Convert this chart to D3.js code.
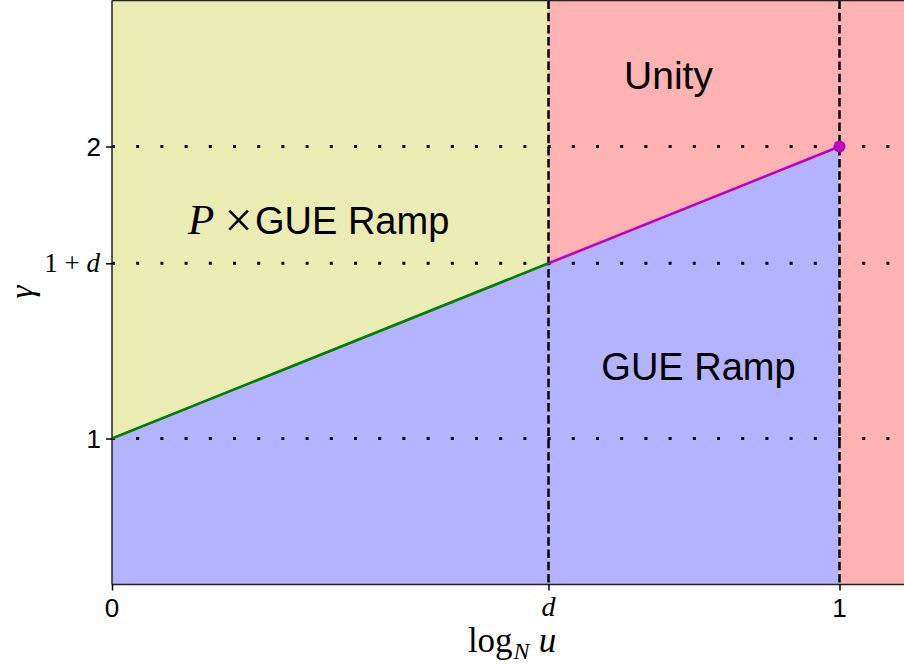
<!DOCTYPE html>
<html><head><meta charset="utf-8">
<script src="https://cdn.jsdelivr.net/npm/d3@7"></script>
<style>body{margin:0;background:#fff}svg{display:block}</style>
</head><body>
<svg id="c" width="904" height="664"></svg>
<script>
// ---- data ----
const d = 0.6;
const xDomain = [0, 1.1];
const yDomain = [0.5, 2.5];
const xTicks = [0, d, 1];
const xTickLabels = ["0", "d", "1"];
const yTicks = [1, 1 + d, 2];
const yTickLabels = ["1", "1+d", "2"];
const greenLine = [[0, 1], [d, 1 + d]];
const magentaLine = [[d, 1 + d], [1, 2]];
const endPoint = [1, 2];
const yellowRegion = [[0, 1], [d, 1 + d], [d, 2.5], [0, 2.5]];
const redRegion = [[d, 1 + d], [1, 2], [1, 0.5], [1.1, 0.5], [1.1, 2.5], [d, 2.5]];
const blueRegion = [[0, 0.5], [0, 1], [1, 2], [1, 0.5]];
const vLines = [d, 1];
const hLines = [1, 1 + d, 2];

// ---- layout ----
const svg = d3.select("#c");
const x = d3.scaleLinear().domain(xDomain).range([112, 112 + 1.1 * 727.5]);
const y = d3.scaleLinear().domain(yDomain).range([584.5, 0.5]);
const line = d3.line().x(p => x(p[0])).y(p => y(p[1]));
const poly = pts => line(pts) + "Z";

svg.append("path").attr("d", poly(yellowRegion)).attr("fill", "#ebebb4");
svg.append("path").attr("d", poly(redRegion)).attr("fill", "#ffb2b2");
svg.append("path").attr("d", poly(blueRegion)).attr("fill", "#b3b3ff");

// dotted horizontal lines
svg.selectAll(".hl").data(hLines).enter().append("line")
  .attr("x1", x(0)).attr("x2", 904)
  .attr("y1", v => y(v)).attr("y2", v => y(v))
  .attr("stroke", "#000").attr("stroke-width", 3)
  .attr("stroke-dasharray", "3 21.2");

// dashed vertical lines
svg.selectAll(".vl").data(vLines).enter().append("line")
  .attr("x1", v => x(v)).attr("x2", v => x(v))
  .attr("y1", y(2.5)).attr("y2", y(0.5))
  .attr("stroke", "#000").attr("stroke-width", 2.5)
  .attr("stroke-dasharray", "8.5 3.7");

svg.append("path").attr("d", line(greenLine)).attr("fill", "none")
  .attr("stroke", "#008000").attr("stroke-width", 2.6);
svg.append("path").attr("d", line(magentaLine)).attr("fill", "none")
  .attr("stroke", "#bf00bf").attr("stroke-width", 2.6);
svg.append("circle").attr("cx", x(endPoint[0])).attr("cy", y(endPoint[1]))
  .attr("r", 6).attr("fill", "#bf00bf");

// spines
const sp = svg.append("g").attr("stroke", "#222").attr("stroke-width", 1.5);
sp.append("line").attr("x1", x(0)).attr("x2", x(0)).attr("y1", y(2.5)).attr("y2", y(0.5));
sp.append("line").attr("x1", x(0)).attr("x2", 904).attr("y1", y(0.5)).attr("y2", y(0.5));
sp.append("line").attr("x1", x(0)).attr("x2", 904).attr("y1", y(2.5)).attr("y2", y(2.5));

// axes ticks
const xAxis = d3.axisBottom(x).tickValues(xTicks).tickSize(6).tickFormat("");
const gx = svg.append("g").attr("transform", `translate(0,${y(0.5)})`).call(xAxis);
gx.select(".domain").remove();
gx.selectAll("line").attr("stroke", "#000").attr("stroke-width", 1.5);
const yAxis = d3.axisLeft(y).tickValues(yTicks).tickSize(6).tickFormat("");
const gy = svg.append("g").attr("transform", `translate(${x(0)},0)`).call(yAxis);
gy.select(".domain").remove();
gy.selectAll("line").attr("stroke", "#000").attr("stroke-width", 1.5);

const sans = "'Liberation Sans', Arial, sans-serif";
const serif = "'Liberation Serif', 'DejaVu Serif', serif";

// x tick labels
xTicks.forEach((v, i) => {
  const lab = xTickLabels[i];
  const t = svg.append("text").attr("x", x(v)).attr("y", 617).attr("text-anchor", "middle")
    .attr("font-size", 26).attr("fill", "#000").text(lab);
  if (lab === "d") t.attr("font-family", serif).attr("font-style", "italic").attr("font-size", 28).attr("y", 616);
  else t.attr("font-family", sans);
});
// y tick labels
yTicks.forEach((v, i) => {
  const lab = yTickLabels[i];
  if (lab === "1+d") {
    const t = svg.append("text").attr("x", 100).attr("y", y(v) + 9).attr("text-anchor", "end")
      .attr("font-family", serif).attr("font-size", 27).attr("fill", "#000");
    t.append("tspan").text("1 + ");
    t.append("tspan").attr("font-style", "italic").text("d");
  } else {
    svg.append("text").attr("x", 101).attr("y", y(v) + 9.5).attr("text-anchor", "end")
      .attr("font-family", sans).attr("font-size", 26).attr("fill", "#000").text(lab);
  }
});

// axis labels
const xl = svg.append("text").attr("x", 512).attr("y", 652).attr("text-anchor", "middle")
  .attr("font-family", serif).attr("font-size", 35).attr("fill", "#000");
xl.append("tspan").text("log");
xl.append("tspan").attr("font-style", "italic").attr("font-size", 24).attr("dy", 7).attr("dx", 1).text("N");
xl.append("tspan").attr("font-style", "italic").attr("dy", -7).attr("dx", 9).text("u");

svg.append("text").attr("transform", "translate(33,292) rotate(-90)").attr("text-anchor", "middle")
  .attr("font-family", serif).attr("font-style", "italic").attr("font-size", 33).attr("fill", "#000").text("γ");

// region labels
svg.append("text").attr("x", 668.5).attr("y", 89).attr("text-anchor", "middle")
  .attr("font-family", sans).attr("font-size", 39).attr("fill", "#000").text("Unity");
svg.append("text").attr("x", 698.5).attr("y", 380).attr("text-anchor", "middle")
  .attr("font-family", sans).attr("font-size", 38).attr("fill", "#000").text("GUE Ramp");
svg.append("text").attr("x", 188).attr("y", 234).attr("fill", "#000").attr("font-size", 43)
  .attr("font-family", serif).attr("font-style", "italic").text("P");
svg.append("text").attr("x", 238.5).attr("y", 237).attr("text-anchor", "middle").attr("fill", "#000")
  .attr("font-size", 50).attr("font-family", serif).text("×");
svg.append("text").attr("x", 255).attr("y", 234).attr("fill", "#000").attr("font-size", 38)
  .attr("font-family", sans).text("GUE Ramp");
</script>
</body></html>
